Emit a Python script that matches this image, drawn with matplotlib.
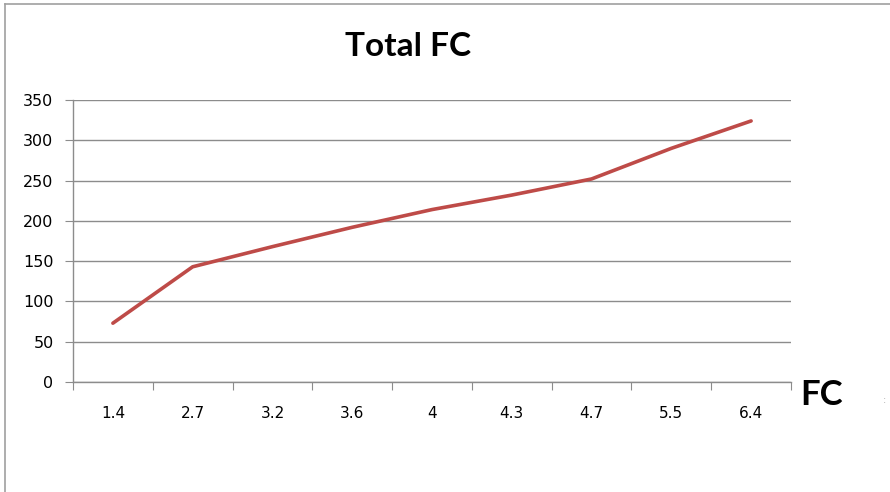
import matplotlib.pyplot as plt
from matplotlib.lines import Line2D
import numpy as np

# Dados
fc_labels = ["1.4", "2.7", "3.2", "3.6", "4", "4.3", "4.7", "5.5", "6.4"]
total_fc = [73, 143, 168, 192, 214, 232, 252, 290, 324]
y_ticks = [0, 50, 100, 150, 200, 250, 300, 350]

fig = plt.figure(figsize=(8.9, 4.92), dpi=100)
ax = fig.add_axes([73 / 890, 110 / 492, 718 / 890, 282 / 492])

x = np.arange(len(fc_labels))
ax.plot(x, total_fc, color="#BE4B48", linewidth=2.6, solid_capstyle="round", zorder=3)

# Eixos no estilo Excel
ax.set_xlim(-0.5, len(fc_labels) - 0.5)
ax.set_ylim(0, 350)
ax.set_yticks(y_ticks)
ax.set_yticklabels([str(v) for v in y_ticks], fontsize=11.5, family="DejaVu Sans")
ax.yaxis.grid(True, color="#8C8C8C", linewidth=1.0)
ax.set_axisbelow(True)

ax.set_xticks(np.arange(-0.5, len(fc_labels), 1.0))
ax.set_xticklabels([])
ax.set_xticks(x, minor=True)
ax.set_xticklabels(fc_labels, minor=True, fontsize=11, family="DejaVu Sans")
ax.tick_params(axis="x", which="major", length=6, color="#8C8C8C", direction="out")
ax.tick_params(axis="x", which="minor", length=0, pad=17)
ax.tick_params(axis="y", length=6, color="#8C8C8C", pad=8)

for side in ["top", "right"]:
    ax.spines[side].set_visible(False)
for side in ["left", "bottom"]:
    ax.spines[side].set_color("#8C8C8C")
    ax.spines[side].set_linewidth(1.0)

# Título e rótulo do eixo
fig.text(408 / 890, 1 - 47 / 492, "Total FC", ha="center", va="center",
         fontsize=24, fontweight="bold", family="Lato")
fig.text(800 / 890, 1 - 395 / 492, "FC", ha="left", va="center",
         fontsize=25, fontweight="bold", family="Lato")
fig.text(885 / 890, 1 - 400 / 492, ":", ha="center", va="center",
         fontsize=7, color="#B0B0B0")

# Moldura do gráfico (topo e esquerda)
fig.add_artist(Line2D([5 / 890, 1], [1 - 4 / 492, 1 - 4 / 492], color="#A0A0A0", linewidth=1.2))
fig.add_artist(Line2D([5 / 890, 5 / 890], [0, 1 - 4 / 492], color="#A0A0A0", linewidth=1.2))

fig.savefig("out.png", dpi=100)
plt.close(fig)
